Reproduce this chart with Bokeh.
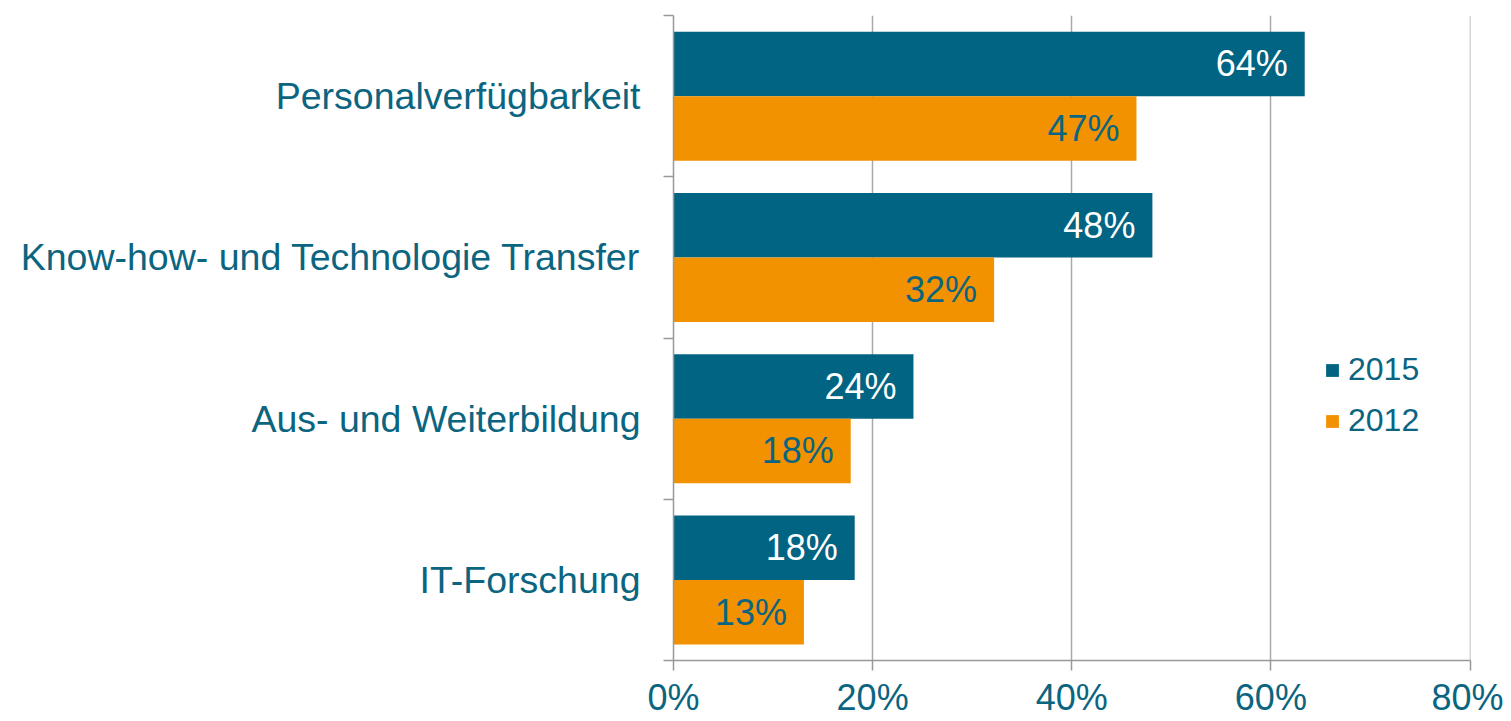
from bokeh.plotting import figure
from bokeh.models import ColumnDataSource, FixedTicker, Legend, LegendItem, Range1d
from bokeh.transform import dodge
from bokeh.core.properties import value
from bokeh.embed import file_html
from bokeh.resources import INLINE

categories = ["Personalverfügbarkeit", "Know-how- und Technologie Transfer",
              "Aus- und Weiterbildung", "IT-Forschung"]
values_2015 = [63.4, 48.1, 24.1, 18.2]
values_2012 = [46.5, 32.2, 17.8, 13.1]
labels_2015 = ["64%", "48%", "24%", "18%"]
labels_2012 = ["47%", "32%", "18%", "13%"]
x_ticks = [0, 20, 40, 60, 80]
x_tick_labels = ["0%", "20%", "40%", "60%", "80%"]

TEAL = "#006482"
ORANGE = "#F39200"
TEXT = "#0B6580"
FONT = "Liberation Sans"

n = len(categories)
pos = [n - i - 0.5 for i in range(n)]

src = ColumnDataSource(dict(y=pos, v15=values_2015, v12=values_2012,
                            l15=labels_2015, l12=labels_2012))

p = figure(width=1503, height=721, output_backend="svg", toolbar_location=None,
           x_range=Range1d(0, 80.05), y_range=Range1d(0, n),
           min_border_left=673, min_border_right=33, min_border_top=15, min_border_bottom=61)
p.outline_line_color = None

r15 = p.hbar(y=dodge("y", 0.2), left=0, right="v15", height=0.4, source=src,
             fill_color=TEAL, line_color=None)
r12 = p.hbar(y=dodge("y", -0.2), left=0, right="v12", height=0.4, source=src,
             fill_color=ORANGE, line_color=None)

p.text(x="v15", y=dodge("y", 0.2), text="l15", source=src, x_offset=-17,
       text_align="right", text_baseline="middle", text_color="white",
       text_font=value(FONT), text_font_size="36px")
p.text(x="v12", y=dodge("y", -0.2), text="l12", source=src, x_offset=-17,
       text_align="right", text_baseline="middle", text_color=TEXT,
       text_font=value(FONT), text_font_size="36px")

# x axis
p.xaxis.ticker = FixedTicker(ticks=x_ticks, minor_ticks=[])
p.xaxis.major_label_overrides = {t: l for t, l in zip(x_ticks, x_tick_labels)}
p.xaxis.major_tick_in = 0
p.xaxis.major_tick_out = 10
p.xaxis.minor_tick_line_color = None
p.xaxis.axis_line_color = "#999999"
p.xaxis.axis_line_width = 1.5
p.xaxis.major_tick_line_color = "#999999"
p.xaxis.major_tick_line_width = 1.5
p.xaxis.major_label_text_font = FONT
p.xaxis.major_label_text_font_size = "36px"
p.xaxis.major_label_text_color = TEXT
p.xaxis.major_label_standoff = 6

# y axis: labels at category centers, boundary ticks as minor ticks
p.yaxis.ticker = FixedTicker(ticks=pos, minor_ticks=list(range(n + 1)))
p.yaxis.major_label_overrides = {y: c for y, c in zip(pos, categories)}
p.yaxis.major_tick_line_color = None
p.yaxis.major_tick_in = 0
p.yaxis.major_tick_out = 0
p.yaxis.minor_tick_in = 0
p.yaxis.minor_tick_out = 10
p.yaxis.minor_tick_line_color = "#999999"
p.yaxis.minor_tick_line_width = 1.5
p.yaxis.axis_line_color = "#999999"
p.yaxis.axis_line_width = 1.5
p.yaxis.major_label_text_font = FONT
p.yaxis.major_label_text_font_size = "37.5px"
p.yaxis.major_label_text_color = TEXT
p.yaxis.major_label_standoff = 23

p.xgrid.grid_line_color = "#AAAAAA"
p.xgrid.grid_line_width = 1.5
p.ygrid.grid_line_color = None

legend = Legend(items=[LegendItem(label="2015", renderers=[r15]),
                       LegendItem(label="2012", renderers=[r12])],
                location=(651, 221), background_fill_alpha=0, border_line_color=None,
                glyph_width=16, glyph_height=16, label_standoff=8, spacing=14,
                label_text_font=FONT, label_text_font_size="32px", label_text_color=TEXT,
                padding=6, margin=0)
p.add_layout(legend, "center")

open("out.html", "w").write(file_html(p, INLINE))
